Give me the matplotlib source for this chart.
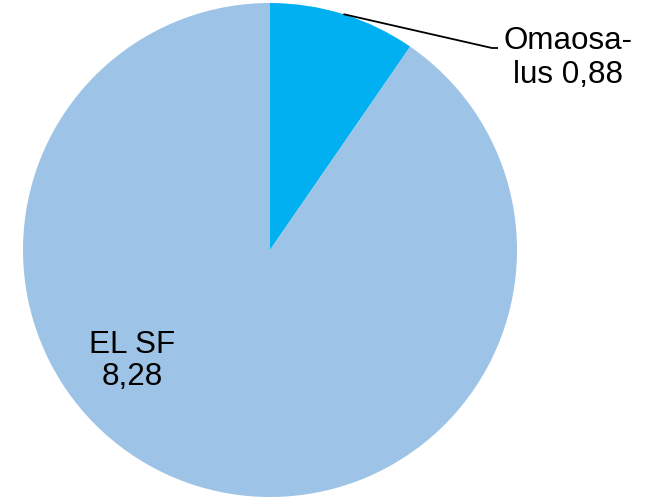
import numpy as np
import matplotlib
matplotlib.use("Agg")
from matplotlib import pyplot as plt

# data
labels = ["Omaosa-\nlus", "EL SF"]
values = [0.88, 8.28]
colors = ["#00B0F0", "#9DC3E6"]

plt.rcParams['font.family'] = ['Liberation Sans', 'DejaVu Sans']

W, H = 649, 498
fig = plt.figure(figsize=(W / 100, H / 100), dpi=100)
ax = fig.add_axes([0, 0, 1, 1])

cx, cy, r = 270, 248, 247
wedges, _ = ax.pie(values, colors=colors, startangle=90, counterclock=False,
                   radius=r, center=(cx, cy), frame=True,
                   wedgeprops=dict(linewidth=0))
ax.set_xlim(0, W)
ax.set_ylim(0, H)
ax.axis("off")

def fmt(v):
    return f"{v:.2f}".replace(".", ",")

# small slice label outside, with leader line
w0 = wedges[0]
mid = np.deg2rad((w0.theta1 + w0.theta2) / 2)
ex, ey = cx + r * np.cos(mid), cy + r * np.sin(mid)
ax.plot([ex, 492, 498], [ey, 450, 450], color="black", lw=1.3, solid_capstyle="butt")
ax.text(568, 415, f"Omaosa-\nlus {fmt(values[0])}", ha="center", va="baseline",
        fontsize=22.6, linespacing=1.17, multialignment="center")

# big slice label inside
ax.text(132, 113, f"{labels[1]}\n{fmt(values[1])}", ha="center", va="baseline",
        fontsize=22.6, linespacing=1.08, multialignment="center")

fig.savefig("out.png", dpi=100)
